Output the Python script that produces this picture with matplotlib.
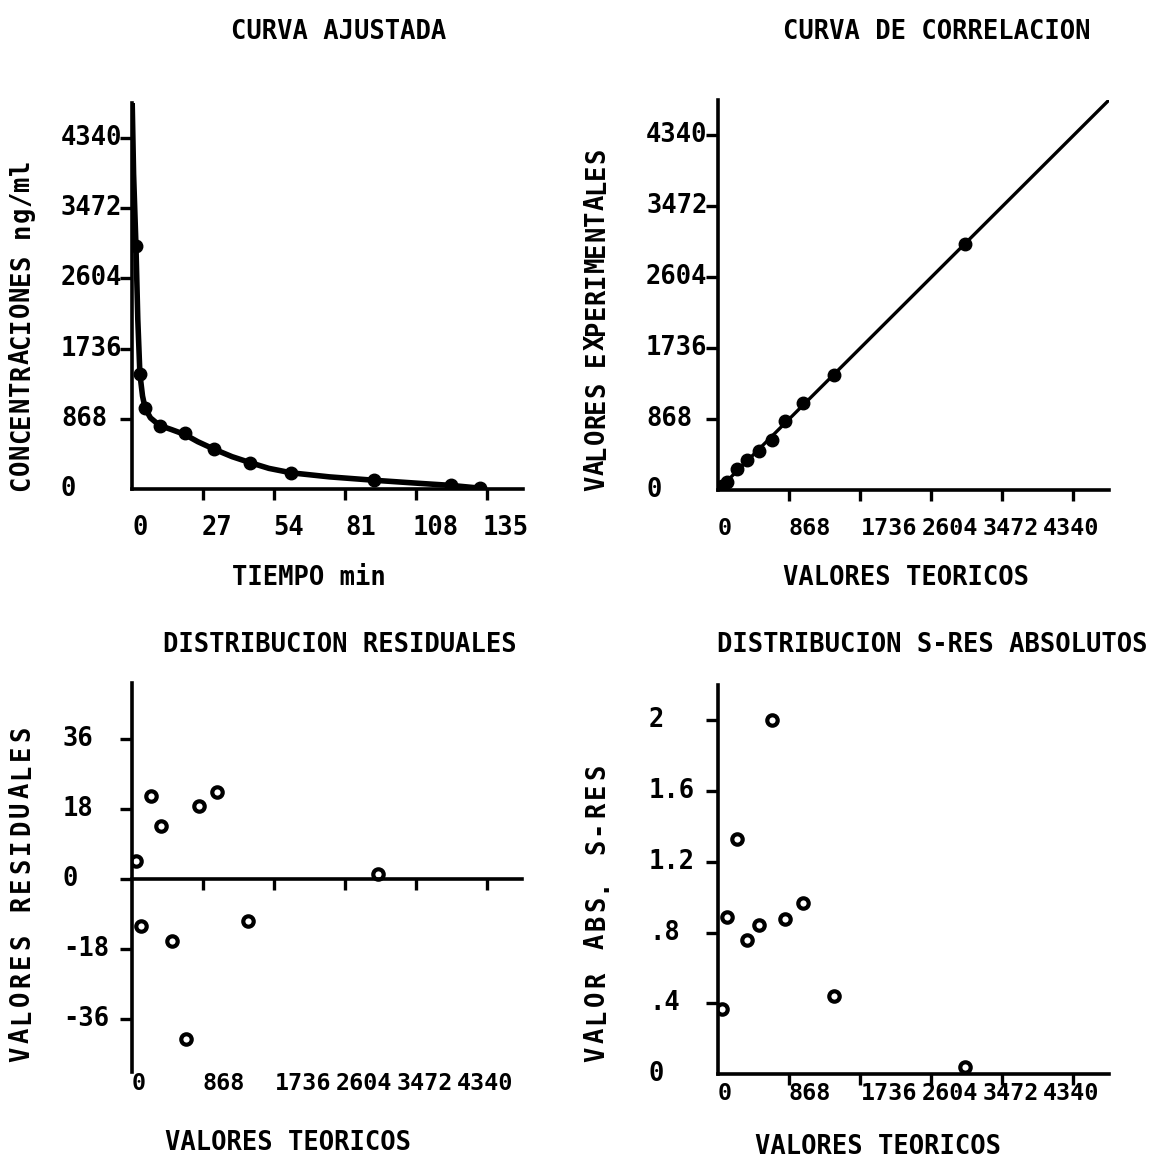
import matplotlib
matplotlib.use("Agg")
import matplotlib.pyplot as plt

###--- DATA ---###
# curva ajustada (tiempo en min, concentracion en ng/ml)
tiempo = [1.5, 3, 5, 10.5, 20, 31, 45, 60.5, 92, 121, 132]
concentracion = [3009, 1422, 998, 779, 689, 491, 318, 194, 111, 49, 14]
curva_t = [0, 0.6, 1.5, 2.2, 3, 4, 5, 7, 10.5, 15, 20, 25, 31, 38, 45, 52, 60.5, 75, 92, 110, 121, 133]
curva_c = [4900, 3900, 3009, 2100, 1422, 1150, 998, 880, 785, 735, 675, 585, 495, 400, 325, 255, 200, 150, 108, 68, 45, 8]

# correlacion / residuales
teoricos = [50, 110, 232, 352, 495, 658, 820, 1041, 1415, 3013]
experimentales = [55, 98, 254, 366, 479, 617, 839, 1063, 1404, 3014]
residuales = [4.7, -11.9, 21.5, 13.7, -15.9, -40.9, 18.8, 22.3, -10.7, 1.4]
sres_abs = [0.37, 0.89, 1.33, 0.76, 0.84, 2.0, 0.875, 0.965, 0.44, 0.04]

t_ticks = [0, 27, 54, 81, 108, 135]
t_labels = ['0', '27', '54', '81', '108', '135']
v_ticks = [0, 868, 1736, 2604, 3472, 4340]
v_labels = ['0', '868', '1736', '2604', '3472', '4340']
res_ticks = [36, 18, 0, -18, -36]
res_labels = ['36', '18', '0', '-18', '-36']
sres_ticks = [2, 1.6, 1.2, 0.8, 0.4, 0]
sres_labels = ['2', '1.6', '1.2', '.8', '.4', '0']

###--- PLOT ---###
W, H = 1158, 1161
FONT = dict(family='DejaVu Sans Mono', weight='bold', color='black')
BIG = 18.4
SMALL = 16.8

fig = plt.figure(figsize=(W / 100, H / 100), dpi=100)
fig.patch.set_facecolor('white')


def txt(x, y, s, size=BIG, **kw):
    kw.setdefault('ha', 'left')
    kw.setdefault('va', 'center')
    fig.text(x / W, 1 - y / H, s, size=size, **FONT, **kw)


def vlabel(x, y_bottom, s, step):
    for i, ch in enumerate(s):
        if ch != ' ':
            txt(x, y_bottom - (i + 0.5) * step, ch, rotation=90, ha='center')


def make_ax(left, top, right, bottom, xlim, ylim):
    ax = fig.add_axes([left / W, 1 - bottom / H, (right - left) / W, (bottom - top) / H])
    ax.set_facecolor('none')
    ax.set_xlim(*xlim)
    ax.set_ylim(*ylim)
    for s in ['top', 'right']:
        ax.spines[s].set_visible(False)
    for s in ['left', 'bottom']:
        ax.spines[s].set_linewidth(2.6)
    ax.tick_params(axis='x', direction='out', length=8, width=2.4)
    ax.tick_params(axis='y', direction='out', length=8.5, width=2.4)
    ax.tick_params(labelbottom=False, labelleft=False)
    return ax


def xlabels(ax, labels, lefts, y, size=BIG):
    x0 = ax.transAxes.transform((0, 0))[0]
    for lab, dx in zip(labels, lefts):
        txt(x0 + dx, y, lab, size=size)


def ylabels(ax, ticks, labels, x):
    for v, lab in zip(ticks, labels):
        py = ax.transData.transform((0, v))[1]
        txt(x, H - py, lab)


V_LEFTS = [0, 70, 143, 204, 265, 325]

# --- CURVA AJUSTADA ---
ax1 = make_ax(132, 103, 523, 489, (0, 148.5), (0, 4774))
ax1.plot(curva_t, curva_c, color='black', lw=4, solid_joinstyle='round')
ax1.plot(tiempo, concentracion, 'o', color='black', ms=9)
ax1.set_xticks(t_ticks[1:])
ax1.set_yticks(v_ticks[1:])
xlabels(ax1, t_labels, [0, 70, 141, 213, 281, 351], 528)
ylabels(ax1, v_ticks, v_labels, 61)
txt(231, 32, 'CURVA AJUSTADA')
txt(232, 578, 'TIEMPO min')
vlabel(22, 491, 'CONCENTRACIONES ng/ml', 15.8)

# --- CURVA DE CORRELACION ---
ax2 = make_ax(718, 100, 1109, 490, (0, 4774), (0, 4774))
ax2.axline((0, 0), slope=1, color='black', lw=2.4)
ax2.plot(teoricos, experimentales, 'o', color='black', ms=9)
ax2.set_xticks(v_ticks[1:])
ax2.set_yticks(v_ticks[1:])
xlabels(ax2, v_labels, V_LEFTS, 528, SMALL)
ylabels(ax2, v_ticks, v_labels, 646)
txt(783, 32, 'CURVA DE CORRELACION')
txt(783, 578, 'VALORES TEORICOS')
vlabel(597, 491, 'VALORES EXPERIMENTALES', 15.6)

# --- DISTRIBUCION RESIDUALES ---
ax3 = make_ax(132, 683, 522, 1072, (0, 4774), (-49.5, 50.4))
ax3.spines['bottom'].set_position(('data', 0))
ax3.plot(teoricos, residuales, 'o', mfc='white', mec='black', mew=3, ms=7.5)
ax3.set_xticks(v_ticks[1:])
ax3.set_yticks(res_ticks)
xlabels(ax3, v_labels, V_LEFTS, 1084, SMALL)
ylabels(ax3, res_ticks, res_labels, 63)
txt(163, 645, 'DISTRIBUCION RESIDUALES')
txt(165, 1143, 'VALORES TEORICOS')
vlabel(22, 1064, 'VALORES RESIDUALES', 18.9)

# --- DISTRIBUCION S-RES ABSOLUTOS ---
ax4 = make_ax(718, 685, 1109, 1074, (0, 4774), (0, 2.2))
ax4.plot(teoricos, sres_abs, 'o', mfc='white', mec='black', mew=3, ms=7.5)
ax4.set_xticks(v_ticks[1:])
ax4.set_yticks(sres_ticks[:-1])
xlabels(ax4, v_labels, V_LEFTS, 1094, SMALL)
ylabels(ax4, sres_ticks, sres_labels, 649)
txt(717, 645, 'DISTRIBUCION S-RES ABSOLUTOS')
txt(755, 1147, 'VALORES TEORICOS')
vlabel(597, 1064, 'VALOR ABS. S-RES', 18.9)

fig.savefig('out.png', dpi=100, facecolor='white')
